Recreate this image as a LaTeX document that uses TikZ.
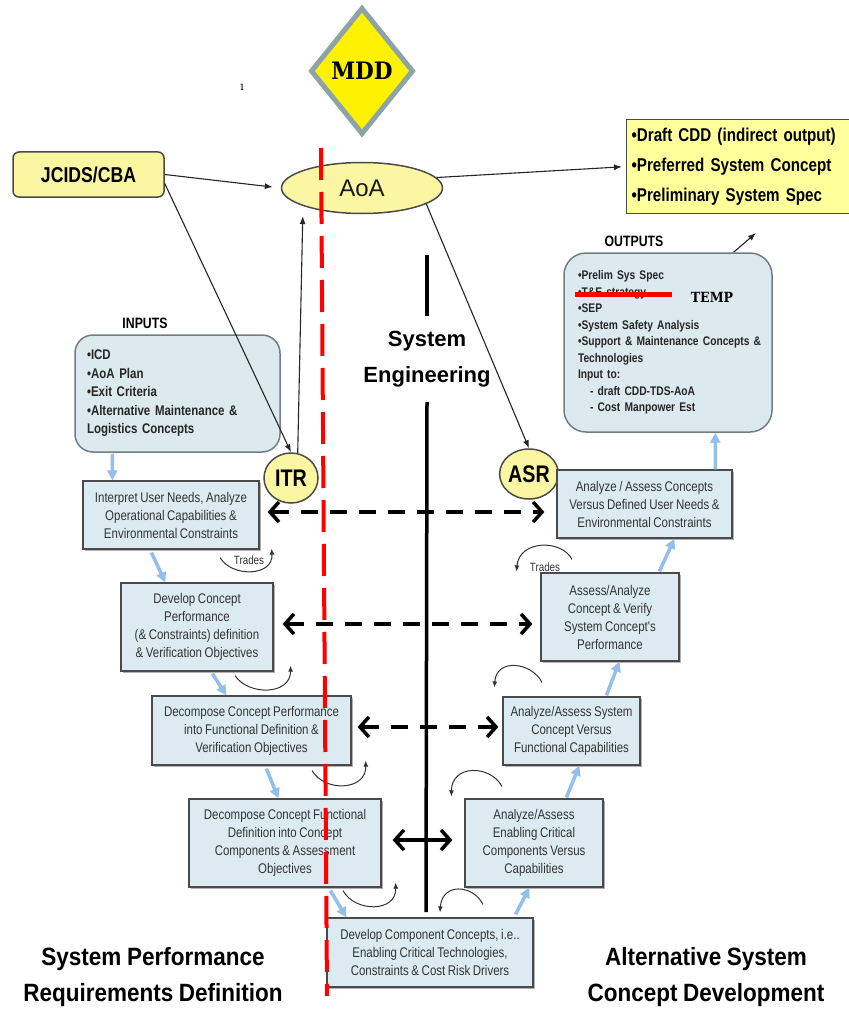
\documentclass[tikz,border=0pt]{standalone}
\usepackage{fontspec}
\setmainfont{Liberation Sans}
\newfontfamily\nar[FakeStretch=0.82,WordSpace=0.82]{Liberation Sans}
\newfontfamily\wideish[FakeStretch=0.9,WordSpace=0.9]{Liberation Sans}
\newfontfamily\slab[FakeStretch=0.9,WordSpace=0.9]{DejaVu Serif}
\usetikzlibrary{arrows.meta,shapes.geometric,shadows,calc}

\definecolor{boxfill}{HTML}{DCEBF1}
\definecolor{boxline}{HTML}{4A4A4A}
\definecolor{panelfill}{HTML}{DCE9EE}
\definecolor{panelline}{HTML}{6F7E84}
\definecolor{paleyellow}{HTML}{FBF6A2}
\definecolor{notefill}{HTML}{FFFF9C}
\definecolor{mddline}{HTML}{8DA3A6}
\definecolor{flowblue}{HTML}{93BFEA}
\definecolor{textgray}{HTML}{333333}

\begin{document}
\begin{tikzpicture}[x=1pt,y=-1pt,
  procbox/.style={draw=boxline, line width=1.2pt, fill=boxfill, align=center,
    inner sep=2pt, text=textgray, font=\nar\fontsize{14}{18}\selectfont,
    drop shadow={shadow xshift=1.5pt, shadow yshift=-1.5pt, fill=black, opacity=0.3}},
  panel/.style={draw=panelline, line width=1.5pt, fill=panelfill, align=left,
    text=black!85},
  review/.style={ellipse, draw=boxline, line width=1.5pt, fill=paleyellow,
    minimum width=54pt, minimum height=50pt, inner sep=0pt,
    font=\nar\bfseries\fontsize{24}{28}\selectfont},
  heading/.style={font=\nar\bfseries\fontsize{15}{18}\selectfont},
  thinarrow/.style={-{Latex[length=8pt,width=6pt]}, line width=1.1pt, black!85},
  curl/.style={-{Latex[length=6pt,width=5pt]}, line width=1pt, black!80},
  flow/.style={-{Triangle[length=10pt,width=10pt]}, line width=3.5pt, flowblue},
  exchange/.style={{Straight Barb[length=9pt,width=20pt]}-{Straight Barb[length=9pt,width=20pt]},
    line width=3.5pt, black},
  dashex/.style={exchange, dash pattern=on 17pt off 12pt},
  redline/.style={red, line width=4pt, dash pattern=on 32pt off 12pt},
  seline/.style={black, line width=3.5pt},
  biglabel/.style={align=center, font=\wideish\bfseries\fontsize{25}{36}\selectfont},
  tradelabel/.style={text=textgray, font=\nar\fontsize{12}{14}\selectfont}]

\fill[white] (0,0) rectangle (848,1011);
\useasboundingbox (0,0) rectangle (848,1011);

% top row: decision point, capability input, analysis of alternatives, results
\node[diamond, draw=mddline, line width=5pt, fill=yellow, minimum width=103pt,
  minimum height=127pt, inner sep=0pt, font=\slab\bfseries\fontsize{24}{26}\selectfont]
  (mdd) at (362,71) {MDD};
\node[font=\slab\fontsize{12}{12}\selectfont] (tick) at (242,87) {\i};
\node[draw=boxline, line width=1.5pt, fill=paleyellow, rounded corners=6pt,
  minimum width=151pt, minimum height=45pt,
  font=\nar\bfseries\fontsize{21.5}{24}\selectfont] (jcids) at (88.5,174.5) {JCIDS/CBA};
\node[ellipse, draw=boxline, line width=1.5pt, fill=paleyellow, minimum width=161pt,
  minimum height=51pt, inner sep=0pt, text=black!90, font=\fontsize{24}{28}\selectfont]
  (aoa) at (362,188) {AoA};
\node[draw=boxline, line width=1.2pt, fill=notefill, anchor=north west,
  minimum height=94pt, text width=214pt, inner xsep=5pt, align=left,
  font=\nar\bfseries\fontsize{18.5}{30}\selectfont] (out) at (626,119)
  {•Draft CDD (indirect output)\\•Preferred System Concept\\•Preliminary System Spec};

% inputs and outputs panels
\node[heading] (inlabel) at (145,323) {INPUTS};
\node[panel, rounded corners=18pt, minimum width=205pt, minimum height=117pt,
  text width=181pt, inner xsep=12pt,
  font=\nar\bfseries\fontsize{14}{18.5}\selectfont] (inputs) at (177.5,393.5)
  {•ICD\\•AoA Plan\\•Exit Criteria\\•Alternative Maintenance \&\\Logistics Concepts};
\node[heading] (outlabel) at (634,241) {OUTPUTS};
\node[panel, rounded corners=22pt, minimum width=208pt, minimum height=179pt,
  text width=180pt, inner xsep=14pt,
  font=\nar\bfseries\fontsize{12.5}{16.5}\selectfont] (outputs) at (668,342.5)
  {•Prelim Sys Spec\\•T\&E strategy\\•SEP\\•System Safety Analysis\\
   \mbox{•Support \& Maintenance Concepts \&}\\Technologies\\Input to:\\
   \hspace*{12pt}- draft CDD-TDS-AoA\\\hspace*{12pt}- Cost Manpower Est};
\coordinate (strikeA) at (575,294);
\coordinate (strikeB) at (672,294);
\draw[red, line width=5pt] (strikeA) -- (strikeB);
\node[font=\slab\bfseries\fontsize{14}{16}\selectfont] (temp) at (712,297) {TEMP};

% technical reviews
\node[review] (itr) at (291,478) {ITR};
\node[review] (asr) at (529,474) {ASR};

% left leg: requirements definition
\node[procbox, minimum width=176pt, minimum height=68pt] (L1) at (171,515)
  {Interpret User Needs, Analyze\\Operational Capabilities \&\\Environmental Constraints};
\node[procbox, minimum width=152pt, minimum height=88pt] (L2) at (197,627)
  {Develop Concept\\Performance\\(\& Constraints) definition\\\& Verification Objectives};
\node[procbox, minimum width=199pt, minimum height=69pt] (L3) at (251.5,730.5)
  {Decompose Concept Performance\\into Functional Definition \&\\Verification Objectives};
\node[procbox, minimum width=192pt, minimum height=88pt] (L4) at (285,843)
  {Decompose Concept Functional\\Definition into Concept\\Components \& Assessment\\Objectives};
\node[procbox, minimum width=206pt, minimum height=69pt] (B) at (430,952.5)
  {Develop Component Concepts, i.e..\\Enabling Critical Technologies,\\Constraints \& Cost Risk Drivers};

% right leg: concept development
\node[procbox, minimum width=175pt, minimum height=68pt] (R1) at (644.5,504)
  {Analyze / Assess Concepts\\Versus Defined User Needs \&\\Environmental Constraints};
\node[procbox, minimum width=138pt, minimum height=88pt] (R2) at (610,617)
  {Assess/Analyze\\Concept \& Verify\\System Concept's\\Performance};
\node[procbox, minimum width=137pt, minimum height=68pt] (R3) at (571.5,731)
  {Analyze/Assess System\\Concept Versus\\Functional Capabilities};
\node[procbox, minimum width=138pt, minimum height=88pt] (R4) at (534,843)
  {Analyze/Assess\\Enabling Critical\\Components Versus\\Capabilities};

% systems engineering spine
\node[minimum height=86pt, inner sep=0pt, align=center,
  font=\bfseries\fontsize{22}{36}\selectfont] (se) at (427,359) {System\\Engineering};
\coordinate (setop) at (427,255);
\coordinate (sebot) at (426,912);
\draw[seline] (setop) -- (se.north);
\draw[seline] (se.south) -- (sebot);

% connectors around the analysis of alternatives
\draw[thinarrow, shorten >=8pt] (jcids.east) -- (aoa.west);
\draw[thinarrow, shorten >=4pt] (aoa.8) -- (out.west);
\draw[thinarrow] ([yshift=-9pt]jcids.east) -- (itr.north);
\draw[thinarrow, shorten >=10pt] (itr.75) -- (aoa.197);
\draw[thinarrow] (aoa.-14) -- (asr.north);
\coordinate (outtip) at (756,233);
\draw[thinarrow] (outputs.54) -- (outtip);

% flow down the left leg and up the right leg
\draw[flow] ($(inputs.south west)+(38,1)$) -- ($(L1.north west)+(30,0)$);
\draw[flow] ($(L1.south west)+(69,3)$) -- ($(L2.north west)+(45,0)$);
\draw[flow] ($(L2.south west)+(92,2)$) -- ($(L3.north west)+(75,0)$);
\draw[flow] ($(L3.south west)+(115,3)$) -- ($(L4.north west)+(90,0)$);
\draw[flow] ($(L4.south west)+(142,3)$) -- ($(B.north west)+(20,0)$);
\draw[flow] ($(B.north east)+(-18,-3)$) -- ($(R4.south west)+(65,0)$);
\draw[flow] ($(R4.north west)+(102,-1)$) -- ($(R3.south west)+(77,0)$);
\draw[flow] ($(R3.north west)+(104,-1)$) -- ($(R2.south west)+(79,0)$);
\draw[flow] ($(R2.north west)+(119,-1)$) -- ($(R1.south west)+(118,0)$);
\draw[flow] ($(R1.north west)+(159,0)$) -- ($(outputs.south west)+(152,0)$);

% exchanges across the spine
\coordinate (x1) at ([shift={(8,-3)}]L1.east);
\draw[dashex, shorten >=12pt] (x1) -- (x1 -| R1.west);
\coordinate (x2) at ([shift={(9,-3)}]L2.east);
\draw[dashex, shorten >=8pt] (x2) -- (x2 -| R2.west);
\coordinate (x3) at ([shift={(6,-3.5)}]L3.east);
\draw[dashex, shorten >=4pt] (x3) -- (x3 -| R3.west);
\coordinate (x4) at ([shift={(11,-3)}]L4.east);
\draw[exchange, shorten >=12pt] (x4) -- (x4 -| R4.west);

% trade-off loops
\draw[curl] ([shift={(49,8)}]L1.south) .. controls +(12,20) and +(2,28) .. ([shift={(12,-1)}]L1.south east);
\draw[curl] ([shift={(38,4)}]L2.south) .. controls +(13,20) and +(0,30) .. ([shift={(17,-6)}]L2.south east);
\draw[curl] ([shift={(60.5,5)}]L3.south) .. controls +(13,22) and +(1,30) .. ([shift={(14,-5)}]L3.south east);
\draw[curl] ([shift={(58,3)}]L4.south) .. controls +(12,22) and +(1,30) .. ([shift={(14,-5)}]L4.south east);
\draw[curl] ([shift={(-38,-13)}]R2.north) .. controls +(-10,-20) and +(3,-32) .. ([shift={(-24,-1)}]R2.north west);
\draw[curl] ([shift={(-29.5,-14)}]R3.north) .. controls +(-10,-20) and +(2,-30) .. ([shift={(-8,-9)}]R3.north west);
\draw[curl] ([shift={(-32,-12)}]R4.north) .. controls +(-12,-22) and +(0,-32) .. ([shift={(-13,-2)}]R4.north west);
\draw[curl] ([shift={(53,-13)}]B.north) .. controls +(-10,-20) and +(2,-30) .. ([shift={(10,-5)}]B.north);
\node[tradelabel] (tradesL) at (249,560) {Trades};
\node[tradelabel] (tradesR) at (545,567) {Trades};

% leg titles
\node[biglabel] (leftlabel) at (153,977) {System Performance\\Requirements Definition};
\node[biglabel] (rightlabel) at (706,977) {Alternative System\\Concept Development};

% decision boundary
\coordinate (redtop) at (321,148);
\coordinate (redbot) at (327,996);
\draw[redline] (redtop) -- (redbot);
\end{tikzpicture}
\end{document}
